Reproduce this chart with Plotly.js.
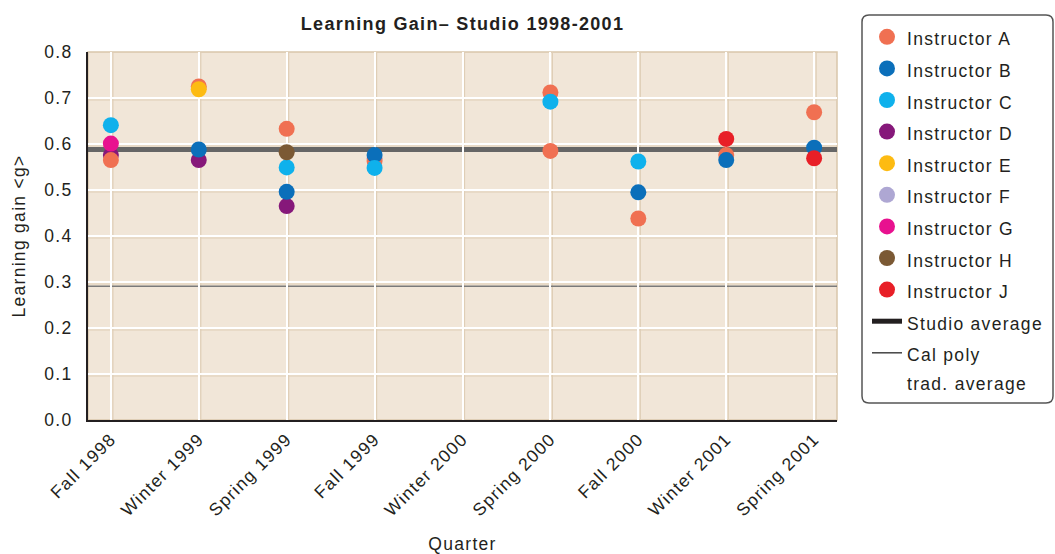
<!DOCTYPE html>
<html>
<head>
<meta charset="utf-8">
<script src="https://cdn.plot.ly/plotly-3.0.1.min.js"></script>
<style>
html,body{margin:0;padding:0;background:#fff;}
#chart{width:1055px;height:554px;}
text{letter-spacing:1.3px;}
</style>
</head>
<body>
<div id="chart"></div>
<script>
// ---- data ----
const quarters = ['Fall 1998','Winter 1999','Spring 1999','Fall 1999','Winter 2000','Spring 2000','Fall 2000','Winter 2001','Spring 2001'];

const instrA_q = ['Fall 1998','Winter 1999','Spring 1999','Fall 1999','Spring 2000','Spring 2000','Fall 2000','Winter 2001','Spring 2001'];
const instrA_g = [0.565, 0.725, 0.633, 0.563, 0.712, 0.585, 0.438, 0.576, 0.669];
const instrB_q = ['Winter 1999','Spring 1999','Fall 1999','Fall 2000','Winter 2001','Spring 2001'];
const instrB_g = [0.588, 0.496, 0.576, 0.495, 0.565, 0.592];
const instrC_q = ['Fall 1998','Spring 1999','Fall 1999','Spring 2000','Fall 2000'];
const instrC_g = [0.641, 0.549, 0.548, 0.692, 0.562];
const instrD_q = ['Fall 1998','Winter 1999','Spring 1999'];
const instrD_g = [0.576, 0.565, 0.465];
const instrE_q = ['Winter 1999'];
const instrE_g = [0.719];
const instrF_q = ['Fall 1999'];
const instrF_g = [0.569];
const instrG_q = ['Fall 1998'];
const instrG_g = [0.601];
const instrH_q = ['Spring 1999'];
const instrH_g = [0.582];
const instrJ_q = ['Winter 2001','Spring 2001'];
const instrJ_g = [0.611, 0.569];

const studioAverage = 0.588;
const calPolyAverage = 0.291;

const yTicks = [0, 0.1, 0.2, 0.3, 0.4, 0.5, 0.6, 0.7, 0.8];

// ---- styling ----
const FONT = 'Liberation Sans, Arial, Helvetica, sans-serif';
const TXT = '#231f20';
const FS = 17.5;
const L = 88, R = 837, T = 52, B = 420, WIDTH = 1055, HEIGHT = 554;
const PW = R - L, PH = B - T;
const pxX = p => (p - L) / PW;
const pxY = p => (B - p) / PH;

function lab(s) { return '<span style="font-size:' + FS + 'px">' + s + '</span>'; }

// [name, quarters, gains, colour, legend rank]; array order = drawing order
const instructors = [
  ['Instructor F', instrF_q, instrF_g, '#aea7d3', 6],
  ['Instructor D', instrD_q, instrD_g, '#86187a', 4],
  ['Instructor A', instrA_q, instrA_g, '#f07052', 1],
  ['Instructor B', instrB_q, instrB_g, '#0b6fba', 2],
  ['Instructor C', instrC_q, instrC_g, '#0fb1ec', 3],
  ['Instructor E', instrE_q, instrE_g, '#fdbb12', 5],
  ['Instructor G', instrG_q, instrG_g, '#e8118f', 7],
  ['Instructor H', instrH_q, instrH_g, '#7b5934', 8],
  ['Instructor J', instrJ_q, instrJ_g, '#e81f27', 9]
];

const traces = instructors.map(([name, q, g, c, rank]) => ({
  type: 'scatter', mode: 'markers', name: lab(name), x: q, y: g, legendrank: rank,
  marker: {color: c, size: 16, line: {width: 0}},
  hoverinfo: 'x+y+name'
}));

traces.push({type: 'scatter', mode: 'lines', name: lab('Studio average'), legendrank: 10,
  x: [quarters[0]], y: [null], line: {color: '#231f20', width: 5}});
traces.push({type: 'scatter', mode: 'lines', name: lab('Cal poly<br>trad. average'), legendrank: 11,
  x: [quarters[0]], y: [null], line: {color: '#444', width: 1.5}});

// rounded legend frame
function roundRect(x0p, y0p, x1p, y1p, r) {
  const X0 = pxX(x0p), X1 = pxX(x1p), Y0 = pxY(y0p), Y1 = pxY(y1p);
  const rx = r / PW, ry = r / PH;
  return `M ${X0+rx},${Y0} L ${X1-rx},${Y0} Q ${X1},${Y0} ${X1},${Y0-ry} L ${X1},${Y1+ry} Q ${X1},${Y1} ${X1-rx},${Y1} L ${X0+rx},${Y1} Q ${X0},${Y1} ${X0},${Y1+ry} L ${X0},${Y0-ry} Q ${X0},${Y0} ${X0+rx},${Y0} Z`;
}

const SHADOW = '#dfceb6';
const shapes = [
  {type: 'rect', xref: 'paper', yref: 'paper', x0: 0, x1: 1, y0: 0, y1: 1,
   line: {color: '#d9c6ab', width: 1.5}, layer: 'below'}
];
// soft tan shadow next to each white grid line
yTicks.slice(1, -1).forEach(v => shapes.push({type: 'line', xref: 'paper', yref: 'y',
  x0: 0, x1: 1, ysizemode: 'pixel', yanchor: v, y0: -2, y1: -2,
  line: {color: SHADOW, width: 1.2}, layer: 'below'}));
quarters.forEach(q => shapes.push({type: 'line', xref: 'x', yref: 'paper',
  y0: 0, y1: 1, xsizemode: 'pixel', xanchor: q, x0: 2, x1: 2,
  line: {color: SHADOW, width: 1.2}, layer: 'below'}));
shapes.push(
  {type: 'line', xref: 'paper', yref: 'y', x0: 0, x1: 1, y0: calPolyAverage, y1: calPolyAverage,
   line: {color: '#7a7a7a', width: 1.5}, layer: 'between'},
  {type: 'line', xref: 'paper', yref: 'y', x0: 0, x1: 1, y0: studioAverage, y1: studioAverage,
   line: {color: '#666666', width: 5}, layer: 'between'},
  {type: 'path', xref: 'paper', yref: 'paper', path: roundRect(862, 15, 1053, 403, 7),
   line: {color: '#555', width: 1.5}, fillcolor: 'rgba(0,0,0,0)', layer: 'above'}
);

const layout = {
  width: WIDTH, height: HEIGHT,
  margin: {l: L, r: WIDTH - R, t: T, b: HEIGHT - B, pad: 0, autoexpand: false},
  paper_bgcolor: '#ffffff',
  plot_bgcolor: '#f1e6d8',
  font: {family: FONT, color: TXT, size: FS},
  title: {text: '<b>Learning Gain– Studio 1998-2001</b>', font: {family: FONT, size: 18, color: TXT},
          xref: 'paper', x: 0.5, xanchor: 'center', yref: 'container', y: 1 - 24/HEIGHT, yanchor: 'middle'},
  showlegend: true,
  legend: {x: pxX(867), y: pxY(16), xanchor: 'left', yanchor: 'top', maxheight: 500,
           valign: 'top', bgcolor: 'rgba(0,0,0,0)', borderwidth: 0, traceorder: 'normal',
           font: {family: FONT, size: 22, color: TXT}},
  xaxis: {type: 'category', categoryorder: 'array', categoryarray: quarters,
          tickvals: quarters, ticktext: quarters,
          range: [-0.26, 8.26], tickangle: -45,
          showgrid: true, gridcolor: '#ffffff', gridwidth: 2,
          showline: true, linecolor: '#231f20', linewidth: 2,
          ticks: '', tickfont: {family: FONT, size: FS, color: TXT},
          title: {text: 'Quarter', font: {family: FONT, size: FS, color: TXT}, standoff: 31},
          automargin: false, fixedrange: true},
  yaxis: {range: [0, 0.8], tickvals: yTicks, tickformat: '.1f',
          showgrid: true, gridcolor: '#ffffff', gridwidth: 2, zeroline: false,
          showline: true, linecolor: '#231f20', linewidth: 2,
          ticks: '', ticklabelstandoff: 10, tickfont: {family: FONT, size: FS, color: TXT},
          title: {text: 'Learning gain &lt;g&gt;', font: {family: FONT, size: FS, color: TXT}, standoff: 14},
          automargin: false, fixedrange: true},
  shapes: shapes
};

Plotly.newPlot('chart', traces, layout, {displayModeBar: false, staticPlot: true});
</script>
</body>
</html>
